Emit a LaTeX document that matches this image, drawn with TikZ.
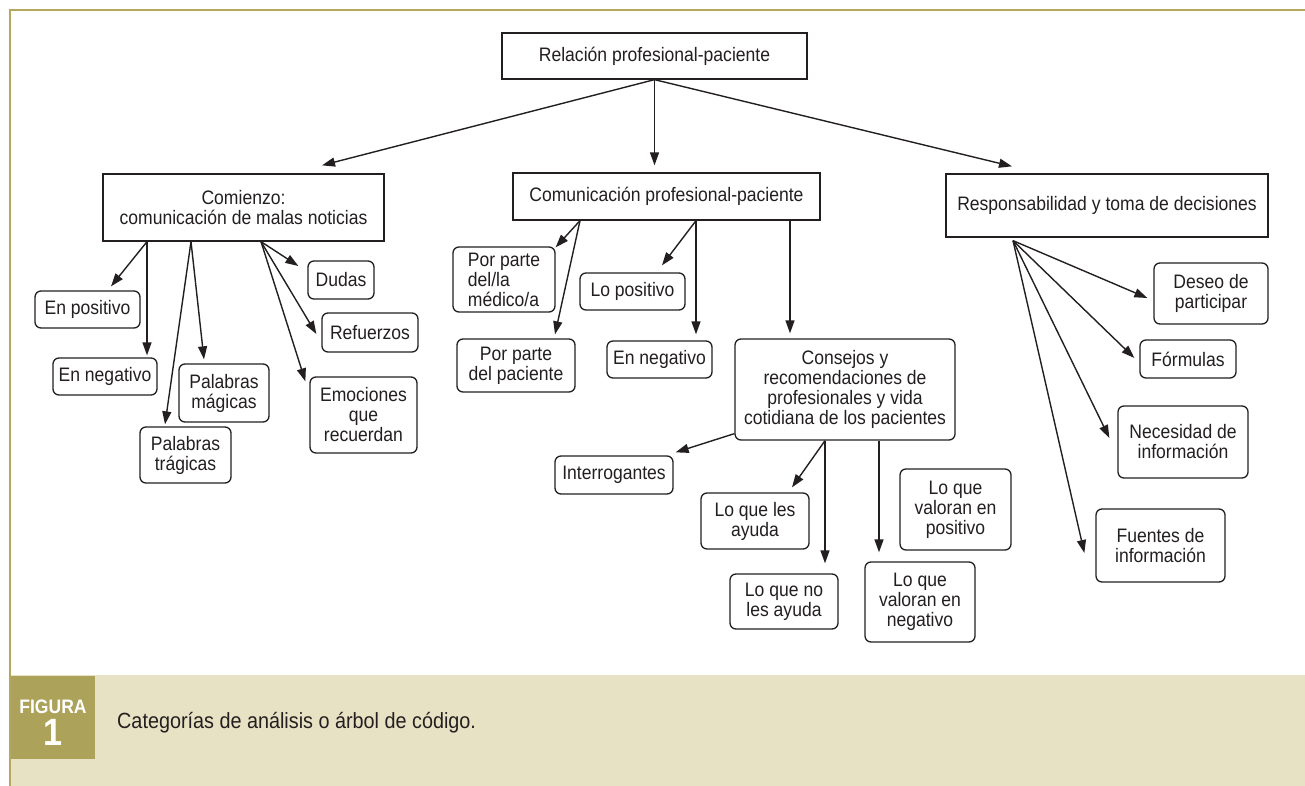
\documentclass[tikz,border=0pt]{standalone}
\usepackage{fontspec}
\setmainfont{Liberation Sans}[FakeStretch=0.9]
\usepackage{tikz}
\usetikzlibrary{arrows.meta,calc}
\definecolor{oliva}{HTML}{ADA25A}
\definecolor{borde}{HTML}{B3A85E}
\definecolor{crema}{HTML}{E8E2C4}
\definecolor{tinta}{HTML}{231F20}
\tikzset{
  caja/.style={draw=tinta, line width=1.3pt, text=tinta, inner sep=2pt, align=center,
    font=\fontsize{19.5}{20}\selectfont},
  hoja/.style={caja, rounded corners=6pt},
  tam/.style 2 args={minimum width=#1pt, minimum height=#2pt},
  flecha/.style={draw=tinta, line width=1.4pt, -{Triangle[length=13pt,width=9pt]}},
}

\begin{document}
\begin{tikzpicture}[x=1pt,y=-1pt]
\useasboundingbox (0,0) rectangle (1305,786);
%marco y pie de figura
\fill[crema] (11,675) rectangle (1305,786);
\fill[oliva] (11,676) rectangle (95,759);
\draw[borde,line width=2.5pt] (10,786) -- (10,10) -- (1305,10);
\node[anchor=base,text=white,font=\fontsize{19.5}{19.5}\selectfont\bfseries] (fig) at (53,713) {FIGURA};
\node[anchor=base,text=white,font=\fontsize{38}{38}\selectfont\bfseries] (num) at (53,745) {1};
\node[anchor=base west,inner sep=0pt,text=tinta,font=\fontsize{22}{24}\selectfont] (pie) at (117,728) {Categorías de análisis o árbol de código.};

%primer y segundo nivel
\node[caja,tam={305}{46}] (rel) at (654.5,56) {Relación profesional-paciente};
\node[caja,tam={281}{67}] (com) at (243.5,207.5) {Comienzo:\\comunicación de malas noticias};
\node[caja,tam={307}{47}] (comu) at (666.5,196.5) {Comunicación profesional-paciente};
\node[caja,tam={322}{63}] (resp) at (1107,205.5) {Responsabilidad y toma de decisiones};

%hojas de Comienzo
\node[hoja,tam={105}{37}] (enpos) at (87.5,309.5) {En positivo};
\node[hoja,tam={104}{37}] (enneg) at (105,376.5) {En negativo};
\node[hoja,tam={90}{58}] (pmag) at (224,393) {Palabras\\mágicas};
\node[hoja,tam={91}{56}] (ptrag) at (185.5,455) {Palabras\\trágicas};
\node[hoja,tam={66}{38}] (dudas) at (341,280) {Dudas};
\node[hoja,tam={96}{39}] (refu) at (370,332.5) {Refuerzos};
\node[hoja,tam={107}{76}] (emoc) at (363.5,415) {Emociones\\que\\recuerdan};

%hojas de Comunicacion
\node[hoja,tam={102}{65},align=left] (medico) at (504,279.5) {Por parte\\del/la\\médico/a};
\node[hoja,tam={118}{53}] (pacien) at (516,365.5) {Por parte\\del paciente};
\node[hoja,tam={105}{37}] (lopos) at (632.5,291.5) {Lo positivo};
\node[hoja,tam={105}{37}] (enneg2) at (659.5,359.5) {En negativo};
\node[hoja,tam={220}{101}] (consejos) at (845,389.5) {Consejos y\\recomendaciones de\\profesionales y vida\\cotidiana de los pacientes};
\node[hoja,tam={118}{38}] (interr) at (614,475) {Interrogantes};
\node[hoja,tam={108}{56}] (ayuda) at (755,521) {Lo que les\\ayuda};
\node[hoja,tam={108}{55}] (noayuda) at (784,601.5) {Lo que no\\les ayuda};
\node[hoja,tam={111}{81}] (vpos) at (955.5,509.5) {Lo que\\valoran en\\positivo};
\node[hoja,tam={110}{80}] (vneg) at (920,602) {Lo que\\valoran en\\negativo};

%hojas de Responsabilidad
\node[hoja,tam={114}{61}] (deseo) at (1211,293.5) {Deseo de\\participar};
\node[hoja,tam={96}{38}] (formu) at (1188,359) {Fórmulas};
\node[hoja,tam={130}{72}] (neces) at (1183,442) {Necesidad de\\información};
\node[hoja,tam={129}{73}] (fuent) at (1160.5,545.5) {Fuentes de\\información};

%puntos de salida
\coordinate (cA) at ([xshift=-96.5pt]com.south);
\coordinate (cB) at ([xshift=-52.5pt]com.south);
\coordinate (cC) at ([xshift=17.5pt]com.south);
\coordinate (cD) at ([xshift=-86.5pt]comu.south);
\coordinate (cE) at ([xshift=29.5pt]comu.south);
\coordinate (cF) at ([xshift=123.5pt]comu.south);
\coordinate (cG) at ([yshift=7pt]consejos.south west);
\coordinate (cH) at ([xshift=-20pt]consejos.south);
\coordinate (cI) at ([xshift=34pt]consejos.south);
\coordinate (cJ) at ([xshift=-94pt,yshift=-3pt]resp.south);

%flechas
\draw[flecha] (rel.south) -- ([xshift=78.5pt,yshift=8pt]com.north);
\draw[flecha,shorten >=7pt] (rel.south) -- (rel.south |- comu.north);
\draw[flecha] (rel.south) -- ([xshift=-95pt,yshift=7pt]resp.north);

\draw[flecha] (cA) -- ([xshift=23.5pt,yshift=4pt]enpos.north);
\draw[flecha,shorten >=2pt] (cA) -- (cA |- enneg.north);
\draw[flecha] (cB) -- ([xshift=-20.5pt,yshift=2pt]ptrag.north);
\draw[flecha] (cB) -- ([xshift=-20pt,yshift=4pt]pmag.north);
\draw[flecha] (cC) -- ([xshift=-9pt,yshift=14pt]dudas.west);
\draw[flecha] (cC) -- ([xshift=-5pt,yshift=-1.5pt]refu.west);
\draw[flecha] (cC) -- ([xshift=-4pt,yshift=-5pt]emoc.north west);

\draw[flecha] (cD) -- ([yshift=-1pt]medico.north east);
\draw[flecha] (cD) -- ([xshift=39pt,yshift=4pt]pacien.north);
\draw[flecha] (cE) -- ([xshift=29.5pt,yshift=7pt]lopos.north);
\draw[flecha,shorten >=6pt] (cE) -- (cE |- enneg2.north);
\draw[flecha,shorten >=5pt] (cF) -- (cF |- consejos.north);

\draw[flecha] (cG) -- ([xshift=2pt,yshift=3pt]interr.north east);
\draw[flecha] (cH) -- ([xshift=37pt,yshift=5pt]ayuda.north);
\draw[flecha,shorten >=10pt] (cH) -- (cH |- noayuda.north);
\draw[flecha,shorten >=9pt] (cI) -- (cI |- vneg.north);

\foreach \n/\dx/\dy in {deseo/-6/-4.5, formu/-5/1, neces/-8/4, fuent/-11/-7.5}
  \draw[flecha] (cJ) -- ([xshift=\dx pt,yshift=\dy pt]\n.west);
\end{tikzpicture}
\end{document}
